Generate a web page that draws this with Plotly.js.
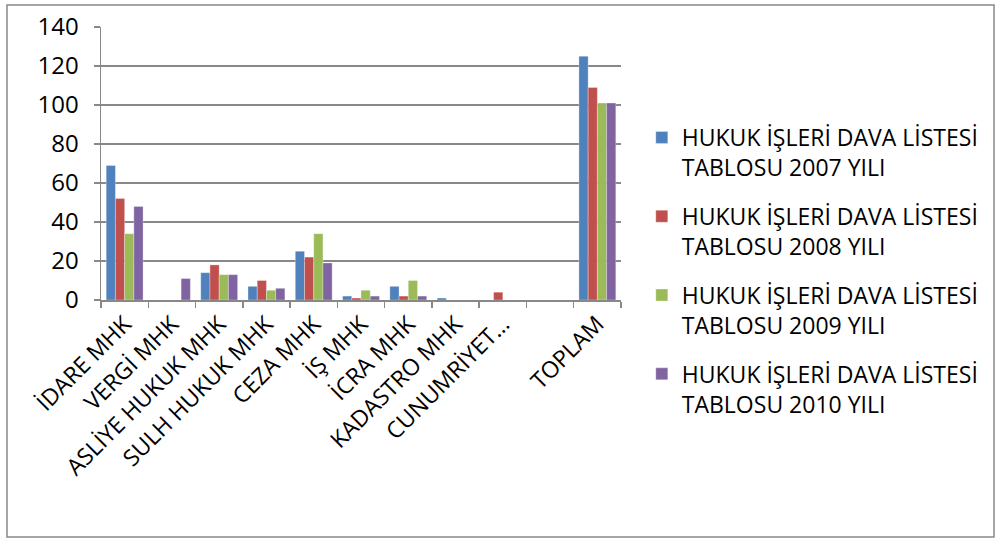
<!DOCTYPE html>
<html><head><meta charset="utf-8">
<script src="https://cdn.plot.ly/plotly-3.0.1.min.js"></script>
<style>html,body{margin:0;padding:0;background:#fff}#chart{width:1000px;height:539px}</style>
</head><body><div id="chart"></div>
<script>
const categories = ["İDARE MHK","VERGİ MHK","ASLİYE HUKUK MHK","SULH HUKUK MHK","CEZA MHK","İŞ MHK","İCRA MHK","KADASTRO MHK","CUNUMRİYET…"," ","TOPLAM"];
const seriesNames = ["HUKUK İŞLERİ DAVA LİSTESİ<br>TABLOSU 2007 YILI","HUKUK İŞLERİ DAVA LİSTESİ<br>TABLOSU 2008 YILI","HUKUK İŞLERİ DAVA LİSTESİ<br>TABLOSU 2009 YILI","HUKUK İŞLERİ DAVA LİSTESİ<br>TABLOSU 2010 YILI"];
const v2007 = [69,0,14,7,25,2,7,1,0,0,125];
const v2008 = [52,0,18,10,22,1,2,0,4,0,109];
const v2009 = [34,0,13,5,34,5,10,0,0,0,101];
const v2010 = [48,11,13,6,19,2,2,0,0,0,101];
const colors = ["#4F81BD","#C0504D","#9BBB59","#8064A2"];
const values = [v2007,v2008,v2009,v2010];
const traces = values.map((v,i)=>({type:'bar',x:categories,y:v,name:seriesNames[i],
  marker:{color:colors[i],line:{color:'rgba(255,255,255,0.6)',width:0.5}},legendgroup:'g'+i}));
const font = "'Open Sans', sans-serif";
const layout = {
  width:1000,height:539,
  margin:{l:101,r:379,t:27,b:239},
  paper_bgcolor:'#fff',plot_bgcolor:'#fff',
  barmode:'group',bargap:0.22,bargroupgap:0,
  font:{family:font,color:'#000',size:23},
  xaxis:{type:'category',tickangle:-45,tickfont:{size:23},showgrid:false,
    showline:true,linecolor:'#888',linewidth:1.5,ticks:'outside',tickson:'boundaries',
    ticklen:6,tickcolor:'#888',tickwidth:1.5,fixedrange:true},
  yaxis:{range:[0,140],dtick:20,showgrid:true,gridcolor:'#888',gridwidth:1.5,
    showline:true,linecolor:'#888',linewidth:1.5,ticks:'outside',ticklen:6,tickcolor:'#888',tickwidth:1.5,
    tickfont:{size:24},zeroline:false,ticklabelstandoff:10},
  showlegend:true,
  legend:{x:1.04,xanchor:'left',y:(300-271)/273,yanchor:'middle',font:{size:23},traceorder:'grouped',tracegroupgap:16,
    valign:'top',maxheight:539,bgcolor:'rgba(0,0,0,0)'},
  shapes:[{type:'rect',xref:'paper',yref:'paper',x0:-94/520,x1:893/520,y0:-237/273,y1:(300-5)/273,
    line:{color:'#888',width:1.5},fillcolor:'rgba(0,0,0,0)'}]
};
Plotly.newPlot('chart',traces,layout,{displayModeBar:false,staticPlot:true});
</script></body></html>
